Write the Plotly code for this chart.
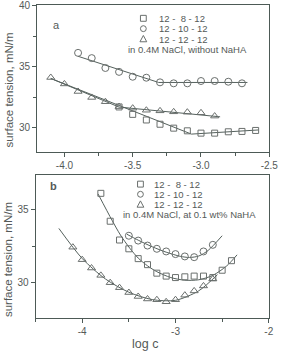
import plotly.graph_objects as go

W, H = 287, 353

# ---------------- Panel a : in 0.4M NaCl, without NaHA ----------------
a_sq_x = [-3.6, -3.5, -3.4, -3.3, -3.2, -3.1, -3.0, -2.9, -2.8, -2.7, -2.6]
a_sq_y = [31.69, 31.08, 30.62, 30.27, 29.95, 29.73, 29.54, 29.54, 29.65, 29.68, 29.76]
a_ci_x = [-3.9, -3.8, -3.7, -3.6, -3.5, -3.4, -3.3, -3.2, -3.1, -3.0, -2.9, -2.8, -2.7]
a_ci_y = [36.13, 35.70, 34.89, 34.57, 34.17, 34.09, 33.71, 33.63, 33.63, 33.82, 33.82, 33.76, 33.63]
a_tr_x = [-4.1, -4.0, -3.9, -3.8, -3.7, -3.6, -3.5, -3.4, -3.3, -3.2, -3.1, -3.0, -2.9]
a_tr_y = [34.11, 33.58, 32.96, 32.47, 32.12, 31.72, 31.59, 31.42, 31.37, 31.29, 31.26, 31.21, 30.94]

# fitted lines
a_sq_fit_x = [-4.1, -3.07, -2.58]
a_sq_fit_y = [34.03, 29.46, 29.8]
a_ci_fit_x = [-3.9, -3.31, -2.66]
a_ci_fit_y = [35.85, 33.7, 33.7]
a_tr_fit_x = [-4.1, -3.6, -2.86]
a_tr_fit_y = [34.03, 31.68, 30.88]

# ---------------- Panel b : in 0.4M NaCl, at 0.1 wt% NaHA ----------------
b_sq_x = [-3.8, -3.7, -3.6, -3.5, -3.4, -3.3, -3.2, -3.1, -3.0, -2.9, -2.8, -2.7, -2.6, -2.5, -2.4]
b_sq_y = [36.09, 34.19, 32.91, 32.31, 31.64, 31.23, 30.65, 30.45, 30.35, 30.4, 30.45, 30.45, 30.35, 30.85, 31.5]
b_ci_x = [-3.5, -3.4, -3.3, -3.2, -3.1, -3.0, -2.9, -2.8, -2.7, -2.6]
b_ci_y = [33.2, 32.87, 32.53, 32.31, 32.13, 31.95, 31.79, 31.74, 32.13, 32.58]
b_tr_x = [-4.1, -4.0, -3.9, -3.8, -3.7, -3.6, -3.5, -3.4, -3.3, -3.2, -3.1, -3.0, -2.9, -2.8, -2.7, -2.6]
b_tr_y = [32.42, 31.57, 31.0, 30.5, 30.0, 29.66, 29.33, 29.06, 28.89, 28.84, 28.7, 28.84, 29.15, 29.44, 29.78, 30.25]

b_sq_fit_x = [-3.83, -3.68, -3.59, -3.49, -3.4, -3.3, -3.2, -3.05, -2.9, -2.75, -2.6, -2.45, -2.34]
b_sq_fit_y = [36.05, 34.25, 33.25, 32.35, 31.68, 31.15, 30.75, 30.35, 30.17, 30.2, 30.5, 31.15, 31.9]
b_ci_fit_x = [-3.52, -3.4, -3.25, -3.1, -2.95, -2.85, -2.75, -2.65, -2.5]
b_ci_fit_y = [33.3, 32.9, 32.45, 32.08, 31.8, 31.72, 31.82, 32.2, 33.2]
b_tr_fit_x = [-4.25, -4.0, -3.75, -3.5, -3.25, -3.0, -2.75, -2.55]
b_tr_fit_y = [33.7, 31.65, 30.25, 29.35, 28.85, 28.8, 29.45, 30.55]

series_names = ["12 -\u00a0\u00a08 - 12", "12 - 10 - 12", "12 - 12 - 12"]
note_a = "in 0.4M NaCl, without NaHA"
note_b = "in 0.4M NaCl, at 0.1 wt% NaHA"
ytitle = "surface tension, mN/m"
xtitle = "log c"

LINE = "#55615d"
MARK = "#6a6f6d"
AXIS = "#4d5a56"
TEXT = "#555a58"
FONT = "Liberation Sans, Arial, sans-serif"


def px(x):
    return x / W


def py(y):
    return 1 - y / H


fig = go.Figure()

# panel a lines are straight segments
for (fx, fy) in [(a_sq_fit_x, a_sq_fit_y), (a_ci_fit_x, a_ci_fit_y), (a_tr_fit_x, a_tr_fit_y)]:
    fig.add_trace(go.Scatter(x=fx, y=fy, mode="lines", xaxis="x", yaxis="y",
                             line=dict(color=LINE, width=1), showlegend=False, hoverinfo="skip"))
for (dx, dy, sym, size) in [(a_sq_x, a_sq_y, "square-open", 6), (a_ci_x, a_ci_y, "circle-open", 7),
                            (a_tr_x, a_tr_y, "triangle-up-open", 7)]:
    fig.add_trace(go.Scatter(x=dx, y=dy, mode="markers", xaxis="x", yaxis="y",
                             marker=dict(symbol=sym, size=size, color=MARK, line=dict(width=1, color=MARK)),
                             showlegend=False))

# panel b curves are smooth fits
for (fx, fy, dx, dy, sym, size) in [
    (b_sq_fit_x, b_sq_fit_y, b_sq_x, b_sq_y, "square-open", 6),
    (b_ci_fit_x, b_ci_fit_y, b_ci_x, b_ci_y, "circle-open", 7),
    (b_tr_fit_x, b_tr_fit_y, b_tr_x, b_tr_y, "triangle-up-open", 7),
]:
    fig.add_trace(go.Scatter(x=fx, y=fy, mode="lines", xaxis="x2", yaxis="y2",
                             line=dict(color=LINE, width=1, shape="spline", smoothing=0.8),
                             showlegend=False, hoverinfo="skip"))
    fig.add_trace(go.Scatter(x=dx, y=dy, mode="markers", xaxis="x2", yaxis="y2",
                             marker=dict(symbol=sym, size=size, color=MARK,
                                         line=dict(width=1, color=MARK)),
                             showlegend=False))

axis_common = dict(showline=True, linecolor=AXIS, linewidth=1, mirror=True,
                   ticks="outside", ticklen=4, tickcolor=AXIS, tickwidth=1,
                   showgrid=False, zeroline=False, ticklabeloverflow="allow",
                   tickfont=dict(family=FONT, size=10, color=TEXT),
                   minor=dict(ticks="outside", ticklen=3, tickcolor=AXIS, tickwidth=1, showgrid=False))

fig.update_layout(
    width=W, height=H,
    margin=dict(l=0, r=0, t=0, b=0),
    paper_bgcolor="white", plot_bgcolor="white",
    showlegend=False,
    xaxis=dict(domain=[px(38.3), px(278)], anchor="y", range=[-4.2, -2.5],
               tickvals=[-4.0, -3.5, -3.0, -2.5], ticktext=["-4.0", "-3.5", "-3.0", "-2.5"],
               minor_tickvals=[-4.25, -3.75, -3.25, -2.75], **axis_common),
    yaxis=dict(domain=[py(149), py(0.5)], anchor="x", range=[28, 40.02],
               tickvals=[30, 35, 40], minor_tickvals=[32.5, 37.5], **axis_common),
    xaxis2=dict(domain=[px(36.7), px(277.5)], anchor="y2", range=[-4.5, -2.0],
                tickvals=[-4, -3, -2], ticktext=["-4", "-3", "-2"],
                minor_tickvals=[-4.5, -3.5, -2.5], **axis_common),
    yaxis2=dict(domain=[py(318), py(172)], anchor="x2", range=[27.56, 37.37],
                tickvals=[30, 35], minor_tickvals=[27.5, 32.5], **axis_common),
)

ann = []
shapes = []

def legend(x_sym, x_txt, ys, note_x, note_y, note):
    s = 3.0
    for i, y in enumerate(ys):
        if i == 0:
            shapes.append(dict(type="rect", xref="paper", yref="paper",
                               x0=px(x_sym - s), x1=px(x_sym + s), y0=py(y + s), y1=py(y - s),
                               line=dict(color=MARK, width=1)))
        elif i == 1:
            shapes.append(dict(type="circle", xref="paper", yref="paper",
                               x0=px(x_sym - s), x1=px(x_sym + s), y0=py(y + s), y1=py(y - s),
                               line=dict(color=MARK, width=1)))
        else:
            path = "M {} {} L {} {} L {} {} Z".format(px(x_sym - 3.5), py(y + 2.8), px(x_sym + 3.5), py(y + 2.8),
                                                       px(x_sym), py(y - 3.6))
            shapes.append(dict(type="path", xref="paper", yref="paper", path=path,
                               line=dict(color=MARK, width=1)))
        ann.append(dict(text=series_names[i], xref="paper", yref="paper", x=px(x_txt), y=py(y),
                        xanchor="left", yanchor="middle", showarrow=False,
                        font=dict(family=FONT, size=9.5, color=TEXT)))
    ann.append(dict(text=note, xref="paper", yref="paper", x=px(note_x), y=py(note_y),
                    xanchor="center", yanchor="middle", showarrow=False,
                    font=dict(family=FONT, size=9.5, color=TEXT)))

legend(148, 162, [13.5, 24, 34.5], 194, 45, note_a)
legend(145, 157, [181.7, 192, 202.3], 195.5, 213, note_b)

ann.append(dict(text="a", xref="paper", yref="paper", x=px(58), y=py(20.5), showarrow=False,
                xanchor="center", yanchor="middle", font=dict(family=FONT, size=11, color=TEXT)))
ann.append(dict(text="<b>b</b>", xref="paper", yref="paper", x=px(55.5), y=py(184), showarrow=False,
                xanchor="center", yanchor="middle", font=dict(family=FONT, size=11, color=TEXT)))
ann.append(dict(text=ytitle, xref="paper", yref="paper", x=px(9), y=py(86), textangle=-90,
                showarrow=False, xanchor="center", yanchor="middle",
                font=dict(family=FONT, size=11.5, color=TEXT)))
ann.append(dict(text=ytitle, xref="paper", yref="paper", x=px(9), y=py(258), textangle=-90,
                showarrow=False, xanchor="center", yanchor="middle",
                font=dict(family=FONT, size=11.5, color=TEXT)))
ann.append(dict(text=xtitle, xref="paper", yref="paper", x=px(150), y=py(344), showarrow=False,
                xanchor="center", yanchor="middle", font=dict(family=FONT, size=12.5, color=TEXT)))

fig.update_layout(annotations=ann, shapes=shapes)

fig.write_html("out.html")
